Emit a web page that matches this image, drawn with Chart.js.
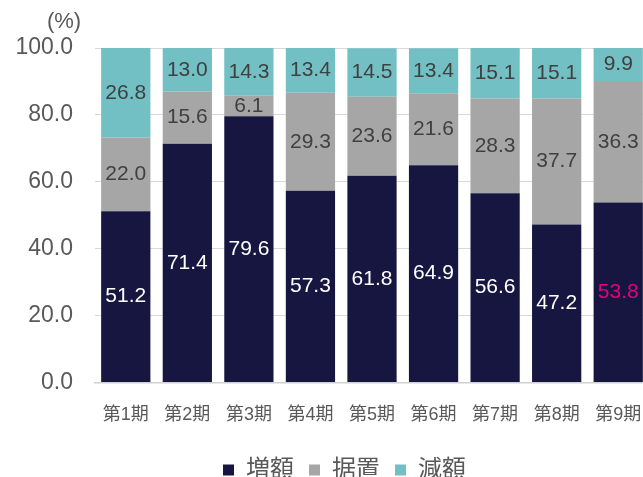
<!DOCTYPE html>
<html>
<head>
<meta charset="utf-8">
<script src="https://cdn.jsdelivr.net/npm/chart.js@4.4.0/dist/chart.umd.min.js"></script>
<style>
  html, body { margin: 0; padding: 0; overflow: hidden; background: #fff; }
  canvas { display: block; }
</style>
</head>
<body>
<canvas id="myBarChart" width="649" height="477"></canvas>
<script>
// data
var periods = ["第1期", "第2期", "第3期", "第4期", "第5期", "第6期", "第7期", "第8期", "第9期"];
var increaseValues = [51.2, 71.4, 79.6, 57.3, 61.8, 64.9, 56.6, 47.2, 53.8];
var holdValues = [22.0, 15.6, 6.1, 29.3, 23.6, 21.6, 28.3, 37.7, 36.3];
var decreaseValues = [26.8, 13.0, 14.3, 13.4, 14.5, 13.4, 15.1, 15.1, 9.9];
var seriesNames = ["増額", "据置", "減額"];

var fontFamily = '"Liberation Sans", Arial, "Noto Sans CJK JP", sans-serif';

// value labels in the middle of each segment
var valueLabels = {
  id: 'valueLabels',
  afterDatasetsDraw: function(chart) {
    var ctx = chart.ctx;
    ctx.save();
    ctx.font = '21px ' + fontFamily;
    ctx.textAlign = 'center';
    ctx.textBaseline = 'middle';
    chart.data.datasets.forEach(function(ds, i) {
      var meta = chart.getDatasetMeta(i);
      meta.data.forEach(function(bar, j) {
        var color = '#404040';
        if (i == 0) color = (j == 8) ? '#E6007E' : '#ffffff';
        ctx.fillStyle = color;
        ctx.fillText(ds.data[j].toFixed(1), bar.x, (bar.y + bar.base) / 2);
      });
    });
    ctx.restore();
  }
};

// "(%)" unit above the y axis
var unitLabel = {
  id: 'unitLabel',
  afterDraw: function(chart) {
    var ctx = chart.ctx;
    ctx.save();
    ctx.font = '22px ' + fontFamily;
    ctx.fillStyle = '#595959';
    ctx.textAlign = 'center';
    ctx.textBaseline = 'middle';
    ctx.fillText('(%)', 64, 22);
    ctx.restore();
  }
};

// nudge the legend to where it sits in the original
var legendShift = {
  id: 'legendShift',
  afterLayout: function(chart) {
    var lg = chart.legend;
    lg.left += 20; lg.right += 20;
    lg.top -= 5; lg.bottom -= 5;
  }
};

new Chart("myBarChart", {
  type: "bar",
  data: {
    labels: periods,
    datasets: [
      { label: seriesNames[0], backgroundColor: '#161641', data: increaseValues },
      { label: seriesNames[1], backgroundColor: '#A6A6A6', data: holdValues },
      { label: seriesNames[2], backgroundColor: '#72BFC4', data: decreaseValues }
    ]
  },
  options: {
    responsive: false,
    animation: false,
    layout: { padding: { top: 48, left: 0, right: 0, bottom: -20 } },
    datasets: { bar: { categoryPercentage: 1, barPercentage: 0.8 } },
    plugins: {
      tooltip: { enabled: false },
      legend: {
        position: 'bottom',
        labels: {
          boxWidth: 11,
          boxHeight: 11,
          padding: 15,
          color: '#595959',
          font: { size: 24, family: fontFamily }
        }
      }
    },
    scales: {
      x: {
        stacked: true,
        afterFit: function(scale) { scale.paddingLeft = 0; scale.paddingRight = 0; },
        grid: { display: false, drawTicks: false },
        border: { color: '#D0D0D0', width: 1.5 },
        ticks: {
          color: '#595959',
          padding: 22,
          maxRotation: 0,
          font: { size: 18, family: fontFamily }
        }
      },
      y: {
        stacked: true,
        min: 0,
        max: 100,
        afterFit: function(scale) { scale.width = 95; },
        grid: { color: '#D9D9D9', lineWidth: 1, drawTicks: false },
        border: { display: false },
        ticks: {
          stepSize: 20,
          padding: 22,
          color: '#595959',
          font: { size: 23, family: fontFamily },
          callback: function(v) { return v.toFixed(1); }
        }
      }
    }
  },
  plugins: [valueLabels, unitLabel, legendShift]
});
</script>
</body>
</html>
